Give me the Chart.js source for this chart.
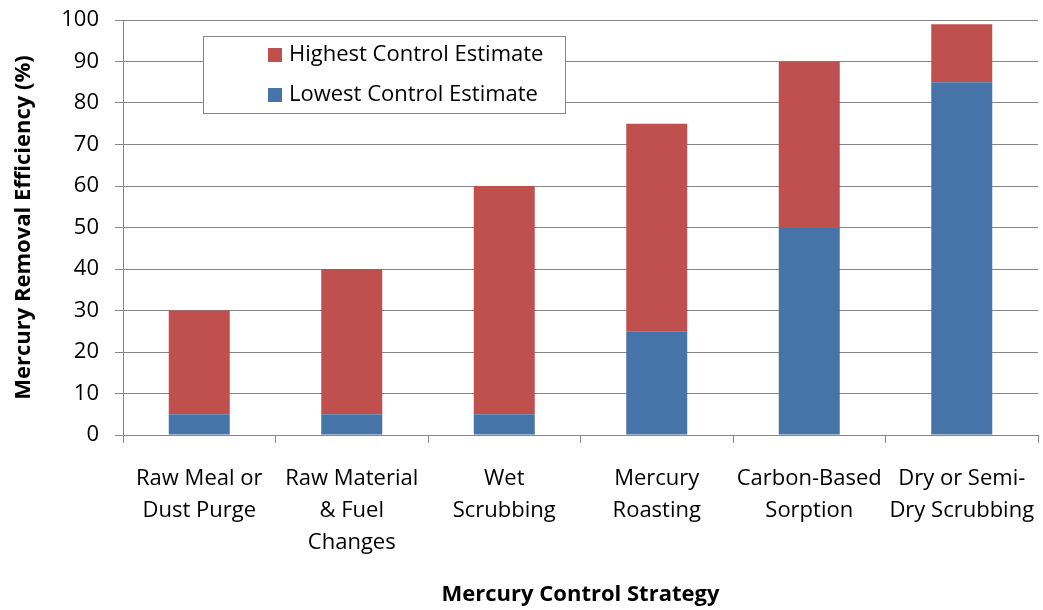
<!DOCTYPE html>
<html>
<head>
<meta charset="utf-8">
<script src="https://cdn.jsdelivr.net/npm/chart.js@4.4.1/dist/chart.umd.min.js"></script>
<style>
  html, body { margin: 0; padding: 0; background: #ffffff; }
  #wrap { width: 1043px; height: 610px; }
</style>
</head>
<body>
<div id="wrap"><canvas id="chart" width="1043" height="610"></canvas></div>
<script>
// Mercury control strategies and their removal efficiency range (%)
const strategies = [
  ["Raw Meal or", "Dust Purge"],
  ["Raw Material", "& Fuel", "Changes"],
  ["Wet", "Scrubbing"],
  ["Mercury", "Roasting"],
  ["Carbon-Based", "Sorption"],
  ["Dry or Semi-", "Dry Scrubbing"]
];
const lowestEstimate  = [5, 5, 5, 25, 50, 85];
const highestEstimate = [30, 40, 60, 75, 90, 99];
const yTicks = [0, 10, 20, 30, 40, 50, 60, 70, 80, 90, 100];

// the upper stack segment spans from the lowest to the highest estimate
const upperSegment = highestEstimate.map((h, i) => h - lowestEstimate[i]);

const FONT = "'Open Sans', Lato, sans-serif";
const GRID = "#868686";
const RED = "#C0504D";
const BLUE = "#4673A8";

// boxed legend drawn inside the plot, upper-left
const boxedLegend = {
  id: "boxedLegend",
  afterDraw(chart) {
    const ctx = chart.ctx;
    const x = 203, y = 36, w = 362, h = 77;
    ctx.save();
    ctx.fillStyle = "#ffffff";
    ctx.fillRect(x, y, w, h);
    ctx.strokeStyle = GRID;
    ctx.lineWidth = 1;
    ctx.strokeRect(x + 0.5, y + 0.5, w, h);
    const items = chart.data.datasets.slice().reverse();
    ctx.font = "22px " + FONT;
    ctx.textBaseline = "middle";
    items.forEach((ds, i) => {
      const cy = 55 + i * 40;
      ctx.fillStyle = ds.backgroundColor;
      ctx.fillRect(268, cy - 7, 14, 14);
      ctx.fillStyle = "#000000";
      ctx.fillText(ds.label, 289, cy);
    });
    ctx.restore();
  }
};

new Chart(document.getElementById("chart"), {
  type: "bar",
  data: {
    labels: strategies,
    datasets: [
      { label: "Lowest Control Estimate", data: lowestEstimate, backgroundColor: BLUE },
      { label: "Highest Control Estimate", data: upperSegment, backgroundColor: RED }
    ]
  },
  options: {
    responsive: false,
    animation: false,
    devicePixelRatio: 1,
    layout: { padding: { top: 20, right: 5, bottom: 0, left: 0 } },
    plugins: { legend: { display: false }, tooltip: { enabled: false } },
    datasets: { bar: { categoryPercentage: 1.0, barPercentage: 0.4 } },
    scales: {
      x: {
        stacked: true,
        grid: { display: true, drawOnChartArea: false, offset: true, color: GRID, tickLength: 8 },
        border: { color: GRID, width: 1 },
        ticks: {
          autoSkip: false, maxRotation: 0, minRotation: 0, color: "#000000",
          padding: 20,
          font: { family: FONT, size: 22, lineHeight: "32px" }
        },
        title: {
          display: true, text: "Mercury Control Strategy", color: "#000000",
          font: { family: FONT, size: 22, weight: "bold" },
          padding: { top: 0, bottom: 2 }
        },
        afterFit(axis) {
          axis.height = 175;
          axis.paddingLeft = 0;
          axis.paddingRight = 0;
        }
      },
      y: {
        stacked: true,
        min: 0, max: 100,
        afterBuildTicks(axis) { axis.ticks = yTicks.map(v => ({ value: v })); },
        grid: { color: GRID, tickLength: 8, lineWidth: 1 },
        border: { color: GRID, width: 1 },
        ticks: {
          color: "#000000", padding: 16,
          font: { family: FONT, size: 22 }
        },
        title: {
          display: true, text: "Mercury Removal Efficiency (%)", color: "#000000",
          font: { family: FONT, size: 22, weight: "bold" },
          padding: { top: 11, bottom: 0 }
        },
        afterFit(axis) {
          axis.width = 123;
          axis.paddingTop = 0;
          axis.paddingBottom = 0;
        }
      }
    }
  },
  plugins: [boxedLegend]
});
</script>
</body>
</html>
